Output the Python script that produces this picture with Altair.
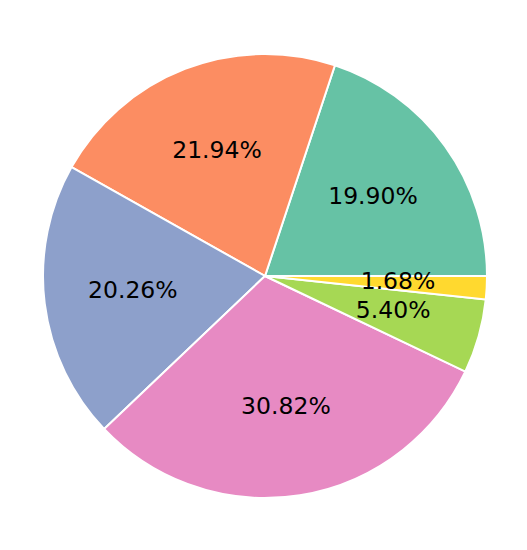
import math
import altair as alt
import pandas as pd

categories = ["A", "B", "C", "D", "E", "F"]
values = [19.90, 21.94, 20.26, 30.82, 5.40, 1.68]
colors = ["#66c2a5", "#fc8d62", "#8da0cb", "#e78ac3", "#a6d854", "#ffd92f"]
draw_order = [6, 5, 4, 3, 2, 1]

df = pd.DataFrame({
    "cat": categories,
    "value": values,
    "order": draw_order,
    "label": [f"{v:.2f}%" for v in values],
})

cx, cy, R = 257, 268, 222

theta = alt.Theta("value:Q", stack=True,
                  scale=alt.Scale(range=[math.pi / 2, math.pi / 2 + 2 * math.pi]))
order = alt.Order("order:Q", sort="ascending")

base = alt.Chart(df).encode(theta=theta, order=order)

arcs = base.mark_arc(radius=R, stroke="white", strokeWidth=2).encode(
    x=alt.value(cx), y=alt.value(cy),
    color=alt.Color("cat:N", scale=alt.Scale(domain=categories, range=colors), legend=None),
)

labels = base.mark_text(radius=0.6 * R, font="DejaVu Sans", fontSize=23.5, dy=-1,
                        color="black", align="center", baseline="middle").encode(
    x=alt.value(cx), y=alt.value(cy),
    text="label:N",
)

chart = alt.layer(arcs, labels).properties(
    width=511, height=534, autosize="none", padding=0
).configure_view(stroke=None)

chart.save("out.html", embed_options={"renderer": "svg", "actions": False})
